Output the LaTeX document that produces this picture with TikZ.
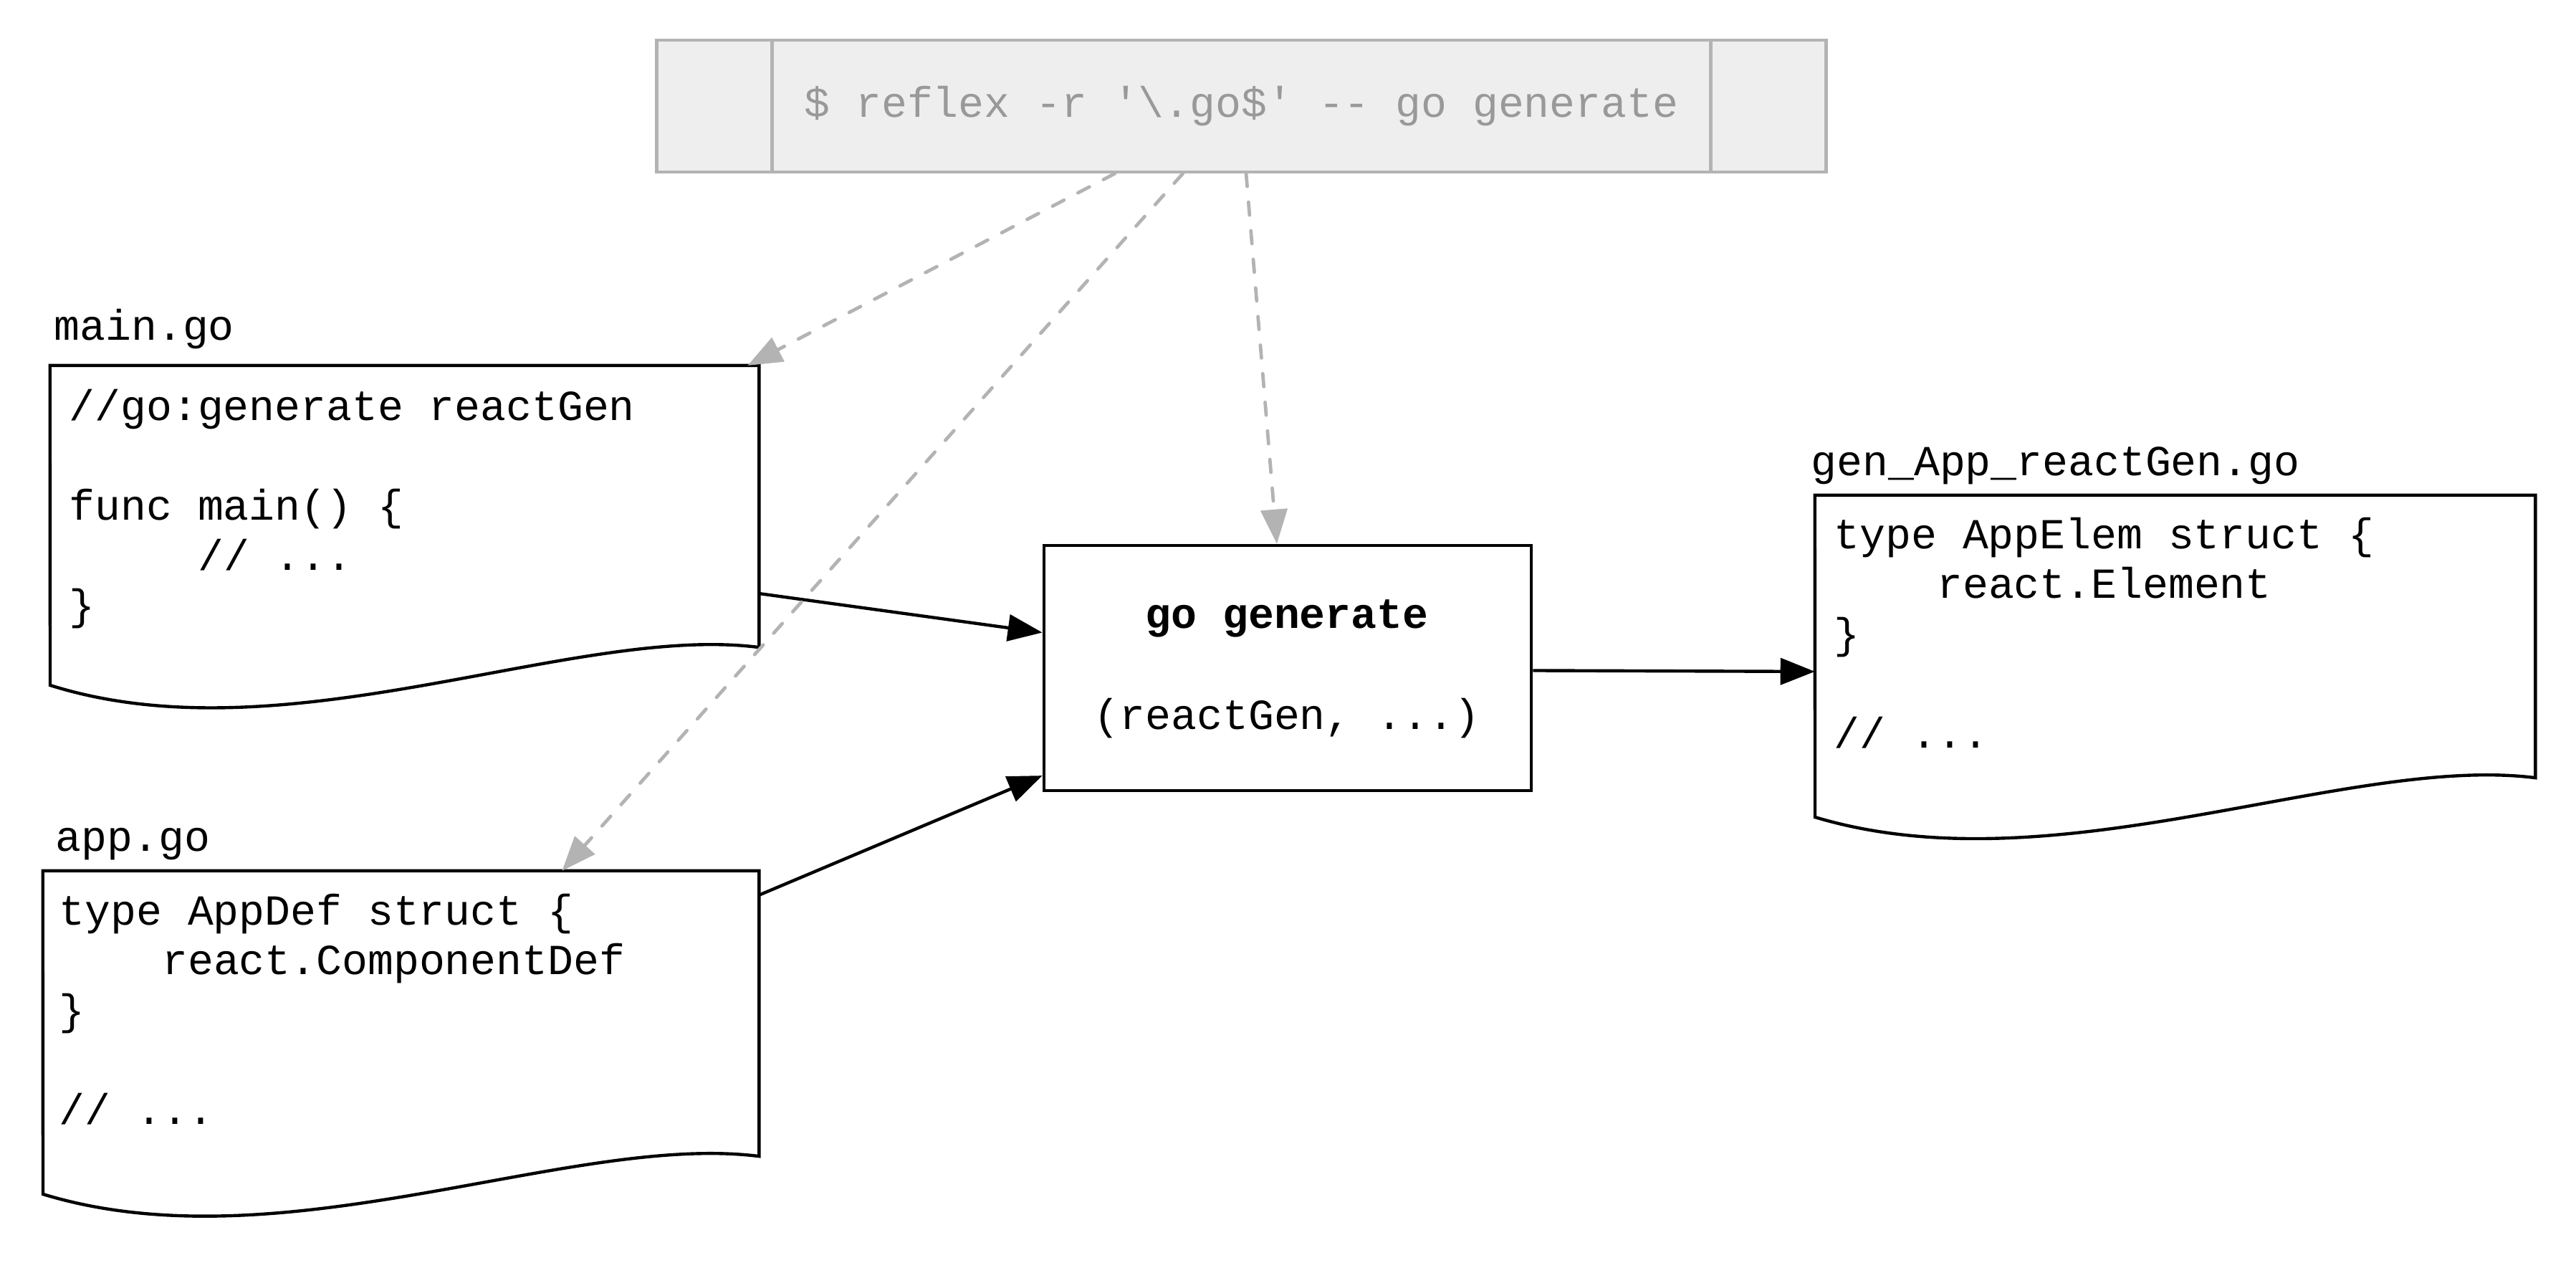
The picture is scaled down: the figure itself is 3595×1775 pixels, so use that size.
\documentclass[tikz,border=0pt]{standalone}
\usepackage{fontspec}
\newfontfamily\codefont{Liberation Mono}
\usetikzlibrary{arrows.meta,calc}
\definecolor{cmdfill}{HTML}{EDEEED}
\definecolor{cmdline}{HTML}{B3B3B3}
\definecolor{cmdtext}{HTML}{999999}
\begin{document}
\begin{tikzpicture}[x=0.01cm, y=-0.01cm,
  code/.style={font=\codefont\fontsize{17}{20}\selectfont, anchor=base west, inner sep=0},
  docline/.style={draw=black, line width=1.25pt, fill=white, line join=miter},
  docnode/.style={inner sep=0, outer sep=0, draw=none},
  solidarr/.style={draw=black, line width=1.25pt, -{Triangle[length=0.48cm, width=0.37cm]}},
  grayarr/.style={draw=cmdline, line width=1.35pt, dash pattern=on 0.18cm off 0.22cm, line cap=round, -{Triangle[length=0.48cm, width=0.37cm]}},
]
\useasboundingbox[fill=white] (0,0) rectangle (3595,1775);

% command box
\node[draw=cmdline, fill=cmdfill, line width=1.2pt, minimum width=16.31cm, minimum height=1.84cm, inner sep=0] (cmd) at (1732.5,148) {};
\draw[cmdline, line width=1.2pt] ([xshift=1.63cm]cmd.north west) -- ([xshift=1.63cm]cmd.south west);
\draw[cmdline, line width=1.2pt] ([xshift=-1.63cm]cmd.north east) -- ([xshift=-1.63cm]cmd.south east);
\node[code, anchor=base, text=cmdtext] (cmdtxt) at (1732.5,163) {\$ reflex -r \textquotesingle\textbackslash.go\$\textquotesingle{} -{}- go generate};

% document shapes
\node[docnode, minimum width=9.89cm, minimum height=3.93cm] (main) at (564.5,706.5) {};
\draw[docline] (main.north west) -- (main.north east) -- (main.south east) .. controls (800,870) and (400,1060) .. (70,956) -- cycle;
\node[docnode, minimum width=9.99cm, minimum height=3.98cm] (app) at (559.5,1414) {};
\draw[docline] (app.north west) -- (app.north east) -- (app.south east) .. controls (797,1580) and (394,1768) .. (60,1666) -- cycle;
\node[docnode, minimum width=10.05cm, minimum height=3.94cm] (gen) at (3035.5,888) {};
\draw[docline] (gen.north west) -- (gen.north east) -- (gen.south east) .. controls (3275,1052) and (2869,1241) .. (2533,1140) -- cycle;

% go generate box
\node[draw=black, line width=1.25pt, minimum width=6.80cm, minimum height=3.42cm, inner sep=0] (gogen) at (1797,932) {};
\node[code, anchor=base] (gogen1) at (1796,876) {\bfseries go generate};
\node[code, anchor=base] (gogen2) at (1796,1017) {(reactGen, ...)};

% file labels
\node[code] (mainlbl) at (75,474) {main.go};
\node[code] (applbl) at (77,1187) {app.go};
\node[code] (genlbl) at (2527,663) {gen\_App\_reactGen.go};

% main.go code
\node[code] (m1) at (96,586) {//go:generate reactGen};
\node[code] (m2) at (96,725) {func main() \{};
\node[code] (m3) at (275.5,795) {// ...};
\node[code] (m4) at (96,864) {\}};

% app.go code
\node[code] (a1) at (82,1290) {type AppDef struct \{};
\node[code] (a2) at (225.6,1359.5) {react.ComponentDef};
\node[code] (a3) at (82,1429) {\}};
\node[code] (a4) at (82,1568) {// ...};

% gen code
\node[code] (g1) at (2559,765) {type AppElem struct \{};
\node[code] (g2) at (2702.6,834.5) {react.Element};
\node[code] (g3) at (2559,904) {\}};
\node[code] (g4) at (2559,1043) {// ...};

% connectors
\draw[solidarr] ($(main.north east)!0.809!(main.south east)$) -- ($(gogen.north west)!0.357!(gogen.south west)$);
\draw[solidarr] ($(app.north east)!0.085!(app.south east)$) -- ($(gogen.north west)!0.933!(gogen.south west)$);
\draw[solidarr] ($(gogen.north east)!0.51!(gogen.south east)$) -- ($(gen.north west)!0.624!(gen.south west)$);

\draw[grayarr] ($(cmd.south west)!0.392!(cmd.south east)$) -- ($(main.north west)!0.984!(main.north east)$);
\draw[grayarr] ($(cmd.south west)!0.450!(cmd.south east)$) -- ($(app.north west)!0.725!(app.north east)$);
\draw[grayarr] ($(cmd.south west)!0.504!(cmd.south east)$) -- ($(gogen.north west)!0.478!(gogen.north east)$);
\end{tikzpicture}
\end{document}
